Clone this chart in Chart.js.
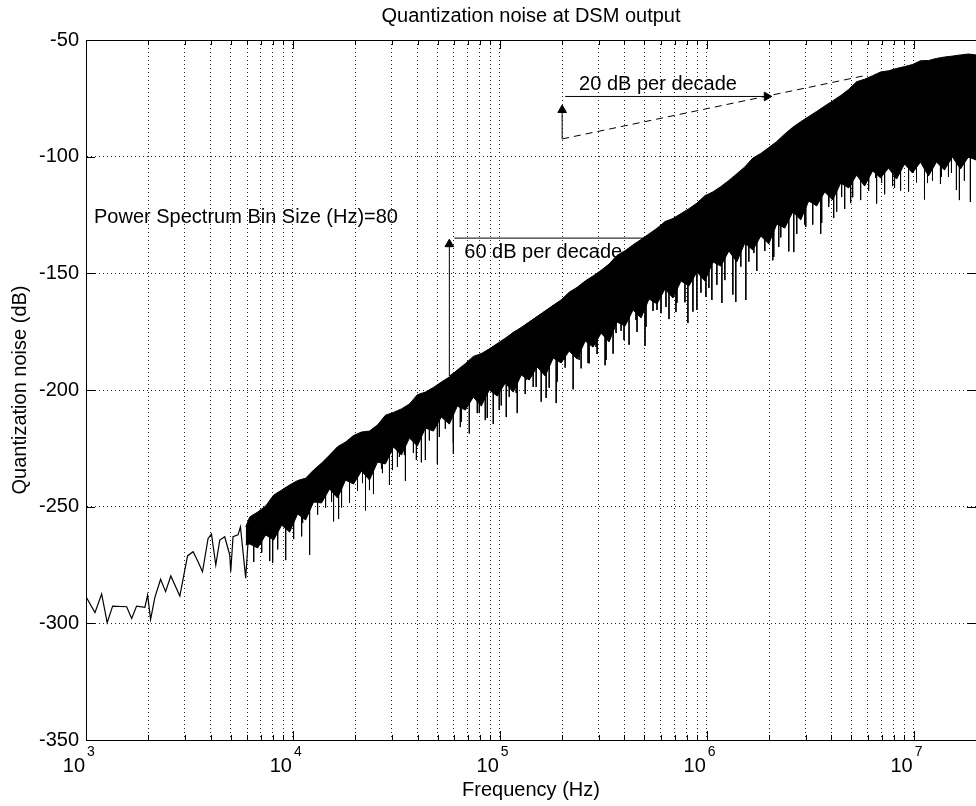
<!DOCTYPE html>
<html lang="en">
<head>
<meta charset="UTF-8">
<title>Quantization noise at DSM output</title>
<script src="https://cdn.jsdelivr.net/npm/chart.js"></script>
<style>
    body { margin: 0; background: #fff; }
</style>
</head>
<body>
<canvas id="noiseChart" width="976" height="806"></canvas>
<script>
// thin trace at the low end (Hz / dB)
const lowFreq = [1000, 1105, 1190, 1266, 1345, 1572, 1662, 1756, 1926, 1985, 2052, 2152, 2293, 2424,
    2570, 2841, 3095, 3293, 3480, 3656, 3890, 4040, 4238, 4430, 4683, 4950, 5006, 5135, 5428, 5577, 5913, 6100];
const lowNoise = [-288.6, -295.4, -287.4, -299.7, -292.6, -292.9, -297.9, -292.6, -293.1, -287.9, -298.3, -288.9, -281.1, -286.4,
    -279.7, -288.3, -271.1, -269.3, -273.6, -277.9, -263.6, -261.7, -275.0, -264.3, -262.9, -270.7, -277.9, -262.9, -262.1, -258.6, -280.7, -262.0];

// the dense part: frequencies where the band edges were read
const bandFreq = [5913,
    6182, 6756, 7385, 8071, 8822, 9640, 10536, 11516, 12586, 13755,
    15033, 16431, 17957, 19627, 21451, 23442, 25621, 28002, 30604, 33449,
    36558, 39955, 43668, 47727, 52163, 57010, 62309, 68101, 74430, 81347,
    88908, 97170, 106200, 116070, 126860, 138650, 151540, 165620, 181010, 197840,
    216220, 236320, 258290, 282290, 308530, 337200, 368540, 402790, 440230, 481140,
    525860, 574730, 628150, 686530, 750330, 820070, 896290, 979590, 1.0701e6, 1.1696e6,
    1.2783e6, 1.3971e6, 1.527e6, 1.6689e6, 1.824e6, 1.9935e6, 2.1789e6, 2.3814e6, 2.6027e6, 2.8446e6,
    3.109e6, 3.398e6, 3.7138e6, 4.0589e6, 4.4363e6, 4.8486e6, 5.2992e6, 5.7917e6, 6.33e6, 6.9183e6,
    7.5613e6, 8.264e6, 9.0322e6, 9.8676e6, 1.0784e7, 1.1787e7, 1.2882e7, 1.408e7, 1.5388e7, 1.6818e7,
    1.8382e7, 2e7];
// upper edge of the band
const bandTop = [-258.7,
    -254.4, -252.3, -249.7, -245.0, -242.9, -240.7, -238.8, -237.8, -234.3, -231.3,
    -227.9, -224.3, -222.3, -219.5, -218.0, -217.6, -215.0, -210.8, -209.6, -208.1,
    -206.0, -202.0, -200.9, -198.9, -196.6, -194.4, -191.4, -188.7, -185.6, -184.4,
    -182.4, -180.3, -178.1, -175.3, -173.4, -170.9, -168.5, -166.1, -163.7, -161.4,
    -158.1, -156.0, -153.3, -151.1, -148.7, -146.0, -142.3, -140.3, -137.8, -135.5,
    -133.1, -130.7, -127.8, -126.5, -124.4, -122.3, -119.9, -116.7, -115.1, -112.8,
    -110.2, -107.3, -104.4, -100.6, -98.6, -96.1, -93.5, -90.3, -87.4, -85.0,
    -82.8, -80.6, -78.3, -76.1, -73.8, -71.2, -67.9, -66.8, -65.3, -63.7,
    -63.2, -62.2, -61.4, -60.5, -58.9, -58.8, -57.9, -57.3, -56.9, -56.4,
    -56.0, -56.4];
// lower, ragged edge of the band
const bandBottom = [-266.4,
    -266.0, -267.7, -262.1, -264.3, -257.9, -260.9, -253.1, -255.7, -248.0, -248.4,
    -242.4, -246.3, -238.6, -240.3, -234.7, -238.6, -230.9, -231.7, -224.4, -227.9,
    -220.6, -224.0, -216.3, -217.6, -211.6, -214.6, -206.9, -208.6, -203.0, -206.9,
    -200.0, -202.6, -197.0, -200.9, -193.6, -195.7, -190.1, -194.0, -186.3, -188.4,
    -183.3, -186.7, -179.0, -181.6, -175.6, -179.4, -170.9, -172.6, -165.7, -169.1,
    -161.0, -163.1, -156.7, -160.6, -153.3, -155.4, -149.4, -153.3, -145.1, -146.9,
    -140.4, -145.1, -137.0, -140.0, -134.0, -137.4, -128.9, -130.6, -123.7, -127.1,
    -119.0, -121.1, -115.1, -118.6, -111.3, -113.4, -107.9, -112.6, -106.1, -109.1,
    -104.9, -109.6, -103.1, -107.0, -102.3, -108.3, -102.3, -105.7, -100.1, -105.3,
    -100.1, -101.4];

// short dips that make up the ragged fringe under the band
const fringeFreq = [6463, 7063, 7721, 8438, 9223, 10078, 11015, 12039, 13158, 14380,
    15716, 17178, 18773, 20519, 22426, 24507, 26785, 29274, 31995, 34969,
    38219, 41771, 45652, 49896, 54533, 59601, 65140, 71196, 77812, 85044,
    92948, 101585, 111026, 121344, 132625, 144950, 158426, 173146, 189235, 206830,
    226045, 247058, 270027, 295117, 322550, 352522, 385286, 421093, 460234, 503003,
    549755, 600846, 656693, 717726, 784425, 857334, 937017, 1.0241e6, 1.1187e6, 1.2227e6,
    1.3364e6, 1.4606e6, 1.5964e6, 1.7447e6, 1.9069e6, 2.0841e6, 2.2779e6, 2.4896e6, 2.721e6, 2.9739e6,
    3.2503e6, 3.5524e6, 3.8826e6, 4.2433e6, 4.6379e6, 5.0689e6, 5.54e6, 6.0549e6, 6.6176e6, 7.2327e6,
    7.9049e6, 8.6395e6, 9.4426e6, 1.0316e7, 1.1274e7, 1.2323e7, 1.3467e7, 1.472e7, 1.6087e7, 1.7582e7];
const fringeBase = [-264.0, -260.1, -260.1, -255.9, -255.9, -251.1, -251.1, -246.0, -246.0, -240.4,
    -240.4, -236.6, -236.6, -232.7, -232.7, -228.9, -228.9, -222.4, -222.4, -218.6,
    -218.6, -214.3, -214.3, -209.6, -209.6, -204.9, -204.9, -201.0, -201.0, -198.0,
    -198.0, -195.0, -195.0, -191.6, -191.6, -188.1, -188.1, -184.3, -184.3, -181.3,
    -181.3, -177.0, -177.0, -173.6, -173.6, -168.9, -168.9, -163.7, -163.7, -159.0,
    -159.0, -154.7, -154.7, -151.3, -151.3, -147.4, -147.4, -143.1, -143.1, -138.4,
    -138.4, -135.0, -135.0, -132.0, -132.0, -126.9, -126.9, -121.7, -121.7, -117.0,
    -117.0, -113.1, -113.1, -109.3, -109.3, -105.9, -105.9, -104.1, -104.1, -102.9,
    -102.9, -101.1, -101.1, -100.3, -100.3, -100.3, -100.3, -98.1, -98.1, -98.1];
const fringeTip = [-273.7, -269.7, -273.3, -268.3, -272.9, -263.9, -262.7, -270.7, -253.4, -250.4,
    -256.3, -250.3, -248.3, -243.3, -251.6, -244.6, -233.7, -240.7, -232.9, -238.9,
    -227.0, -231.0, -221.6, -231.6, -216.6, -222.6, -213.6, -218.6, -209.9, -212.9,
    -214.6, -206.6, -202.9, -209.9, -201.7, -198.7, -205.0, -199.0, -196.4, -190.4,
    -199.7, -190.7, -188.6, -184.6, -189.4, -184.4, -174.6, -180.6, -175.1, -181.1,
    -166.1, -167.1, -169.6, -162.6, -162.4, -166.4, -158.3, -156.3, -154.9, -152.9,
    -159.1, -147.1, -145.0, -149.0, -140.4, -144.4, -134.6, -140.6, -133.1, -129.1,
    -129.1, -133.1, -121.6, -123.6, -122.4, -117.4, -118.6, -114.6, -120.1, -116.1,
    -112.6, -114.6, -115.0, -111.0, -118.3, -110.3, -111.7, -108.7, -114.3, -110.3];

// deep dips hanging below the band
const spikeFreq = [7980, 11140, 11900, 15370, 16620, 21690, 23440, 24510, 27080, 30270, 32710, 34580, 39510, 43660,
    51020, 59620, 64420, 79570, 86950, 99340, 107400, 119980, 134100, 149800, 167400, 187200, 206800, 241500,
    266900, 291700, 326100, 364300, 398200, 454900, 508500, 574500, 634900, 709600, 810500, 895600, 990200,
    1.058e6, 1.183e6, 1.381e6, 1.544e6, 1.688e6, 2.107e6, 2.227e6, 2.632e6, 3.008e6, 3.592e6, 3.882e6, 4.104e6,
    4.484e6, 4.957e6, 6.053e6, 6.543e6, 6.993e6, 8.08e6, 9.44e6, 1.166e7, 1.362e7, 1.522e7, 1.663e7, 1.879e7];
const spikeBase = [-258, -249, -247, -240, -239, -232, -230, -229, -228, -225, -221, -219, -217, -214,
    -211, -206, -204, -200, -198, -196, -195, -193, -190, -189, -186, -184, -182, -179,
    -177, -175, -172, -169, -166, -163, -160, -157, -155, -153, -150, -148, -146,
    -145, -143, -138, -136, -134, -128, -127, -122, -119, -114, -113, -111,
    -109, -107, -105, -103, -104, -102, -102, -100, -100, -99, -98, -99];
const spikeTip = [-274.1, -257.0, -252.7, -248.0, -255.3, -239.9, -242.9, -239.9, -235.6, -234.3, -228.7, -227.9, -230.0, -230.0,
    -220.1, -227.4, -215.9, -209.9, -212.0, -208.6, -211.6, -201.3, -195.7, -198.7, -203.4, -205.6, -187.1, -187.1,
    -188.4, -181.6, -187.1, -175.6, -178.6, -170.0, -173.0, -165.7, -164.4, -166.6, -171.3, -165.7, -160.1,
    -161.4, -162.7, -162.3, -161.4, -141.3, -143.0, -138.7, -140.9, -130.1, -128.4, -119.9, -126.3,
    -117.3, -119.9, -111.3, -109.1, -111.3, -113.4, -110.0, -111.3, -108.7, -107.0, -118.6, -119.4];

// slope guides
const guide60Freq = [57000, 570000];
const guide60dB = [-194, -134];
const guide20Freq = [200000, 6000000];
const guide20dB = [-92.4, -65];

const decades = [1e3, 1e4, 1e5, 1e6, 1e7];
const decadeExponents = ['3', '4', '5', '6', '7'];
const yTicks = [-350, -300, -250, -200, -150, -100, -50];

const FONT = '"Liberation Sans", Arial, Helvetica, sans-serif';
const pts = (xs, ys) => xs.map((x, i) => ({x: x, y: ys[i]}));

// vertical strokes from base to tip, broken apart with gaps
function dips(freq, base, tip) {
    const out = [];
    freq.forEach((f, i) => {
        out.push({x: f, y: base[i]}, {x: f, y: tip[i]}, {x: f, y: null});
    });
    return out;
}

// every 1..9 x decade position gets a dotted grid line
const gridTicks = [];
decades.forEach(d => {
    for (let k = 1; k <= 9; k++) {
        if (d * k <= 2e7) gridTicks.push(d * k);
    }
});

Chart.defaults.font.family = FONT;
Chart.defaults.font.size = 20;
Chart.defaults.color = '#000';

const notesPlugin = {
    id: 'notes',
    beforeDatasetsDraw(chart) {
        const {ctx, scales: {x, y}} = chart;
        const notes = [
            ['Power Spectrum Bin Size (Hz)=80', 1093, -125.9],
            ['60 dB per decade', 67300, -140.9],
            ['20 dB per decade', 241500, -68.9]
        ];
        ctx.save();
        ctx.fillStyle = '#000';
        ctx.font = '20px ' + FONT;
        ctx.textBaseline = 'middle';
        ctx.textAlign = 'left';
        notes.forEach(n => ctx.fillText(n[0], x.getPixelForValue(n[1]), y.getPixelForValue(n[2])));
        ctx.restore();
    }
};

// box around the plot, inward tick marks and the 10^n labels
const framePlugin = {
    id: 'frame',
    afterDatasetsDraw(chart) {
        const {ctx, chartArea: a, scales: {x, y}} = chart;
        ctx.save();
        ctx.strokeStyle = '#000';
        ctx.lineWidth = 1;
        ctx.strokeRect(a.left + 0.5, a.top + 0.5, a.right - a.left, a.bottom - a.top);
        ctx.beginPath();
        gridTicks.forEach(v => {
            const px = Math.round(x.getPixelForValue(v)) + 0.5;
            const len = decades.includes(v) ? 9 : 5;
            ctx.moveTo(px, a.bottom); ctx.lineTo(px, a.bottom - len);
            ctx.moveTo(px, a.top); ctx.lineTo(px, a.top + len);
        });
        yTicks.forEach(v => {
            const py = Math.round(y.getPixelForValue(v)) + 0.5;
            ctx.moveTo(a.left, py); ctx.lineTo(a.left + 9, py);
            ctx.moveTo(a.right, py); ctx.lineTo(a.right - 9, py);
        });
        ctx.stroke();

        ctx.fillStyle = '#000';
        ctx.textBaseline = 'middle';
        decades.forEach((d, i) => {
            const px = x.getPixelForValue(d);
            ctx.font = '20px ' + FONT;
            ctx.textAlign = 'right';
            ctx.fillText('10', px - 1, a.bottom + 26);
            ctx.font = '14px ' + FONT;
            ctx.textAlign = 'left';
            ctx.fillText(decadeExponents[i], px + 1, a.bottom + 12);
        });
        ctx.restore();
    }
};

const arrowStyle = {
    borderColor: '#000', borderWidth: 1, fill: false, order: 5,
    pointStyle: 'triangle', pointBackgroundColor: '#000', pointBorderColor: '#000', pointBorderWidth: 1
};

new Chart(document.getElementById('noiseChart').getContext('2d'), {
    type: 'line',
    data: {
        datasets: [
            {label: 'band top', data: pts(bandFreq, bandTop), borderColor: '#000', borderWidth: 1,
                pointRadius: 0, fill: false, order: 0},
            {label: 'band bottom', data: pts(bandFreq, bandBottom), borderColor: '#000', borderWidth: 1,
                pointRadius: 0, fill: '-1', backgroundColor: '#000', order: 0},
            {label: 'fringe', data: dips(fringeFreq, fringeBase, fringeTip), borderColor: '#000', borderWidth: 1,
                pointRadius: 0, spanGaps: false, fill: false, order: 0},
            {label: 'dips', data: dips(spikeFreq, spikeBase, spikeTip), borderColor: '#000', borderWidth: 1,
                pointRadius: 0, spanGaps: false, fill: false, order: 0},
            {label: 'low end', data: pts(lowFreq, lowNoise), borderColor: '#000', borderWidth: 1.2,
                pointRadius: 0, fill: false, order: 0},
            // 60 dB per decade guide
            Object.assign({}, arrowStyle, {data: pts(guide60Freq, guide60dB), pointRadius: 0}),
            Object.assign({}, arrowStyle, {data: [{x: guide60Freq[0], y: guide60dB[0]}, {x: guide60Freq[0], y: -137.5}],
                pointRadius: [0, 5]}),
            Object.assign({}, arrowStyle, {data: [{x: 60260, y: -134.9}, {x: guide60Freq[1], y: -134.9}], pointRadius: 0}),
            // 20 dB per decade guide
            Object.assign({}, arrowStyle, {data: pts(guide20Freq, guide20dB), pointRadius: 0, borderDash: [7, 5]}),
            Object.assign({}, arrowStyle, {data: [{x: guide20Freq[0], y: guide20dB[0]}, {x: guide20Freq[0], y: -80}],
                pointRadius: [0, 5]}),
            Object.assign({}, arrowStyle, {data: [{x: 206800, y: -74.2}, {x: 1.95e6, y: -74.2}],
                pointRadius: [0, 5], pointRotation: [0, 90]})
        ]
    },
    options: {
        responsive: false,
        animation: false,
        devicePixelRatio: 1,
        elements: {line: {tension: 0}},
        layout: {padding: 0, autoPadding: false},
        plugins: {
            legend: {display: false},
            tooltip: {enabled: false},
            title: {
                display: true,
                text: 'Quantization noise at DSM output',
                font: {size: 20, weight: 'normal'},
                fullSize: false,
                padding: {top: 4, bottom: 12}
            }
        },
        scales: {
            x: {
                type: 'logarithmic',
                min: 1e3,
                max: 2e7,
                afterBuildTicks: s => { s.ticks = gridTicks.map(v => ({value: v, major: decades.includes(v)})); },
                afterFit: s => { s.height = 66; s.paddingLeft = 0; s.paddingRight = 0; },
                ticks: {autoSkip: false, maxRotation: 0, callback: () => ''},
                grid: {color: '#222', lineWidth: 1, drawTicks: false},
                border: {display: true, color: '#000', dash: [1, 3]},
                title: {display: true, text: 'Frequency (Hz)', padding: {top: 0, bottom: 4}}
            },
            y: {
                min: -350,
                max: -50,
                afterBuildTicks: s => { s.ticks = yTicks.map(v => ({value: v})); },
                afterFit: s => { s.width = 86; s.paddingTop = 0; s.paddingBottom = 0; },
                ticks: {padding: 7},
                grid: {color: '#222', lineWidth: 1, drawTicks: false},
                border: {display: true, color: '#000', dash: [1, 3]},
                title: {display: true, text: 'Quantization noise (dB)', padding: {top: 8, bottom: 0}}
            }
        }
    },
    plugins: [notesPlugin, framePlugin]
});
</script>
</body>
</html>
